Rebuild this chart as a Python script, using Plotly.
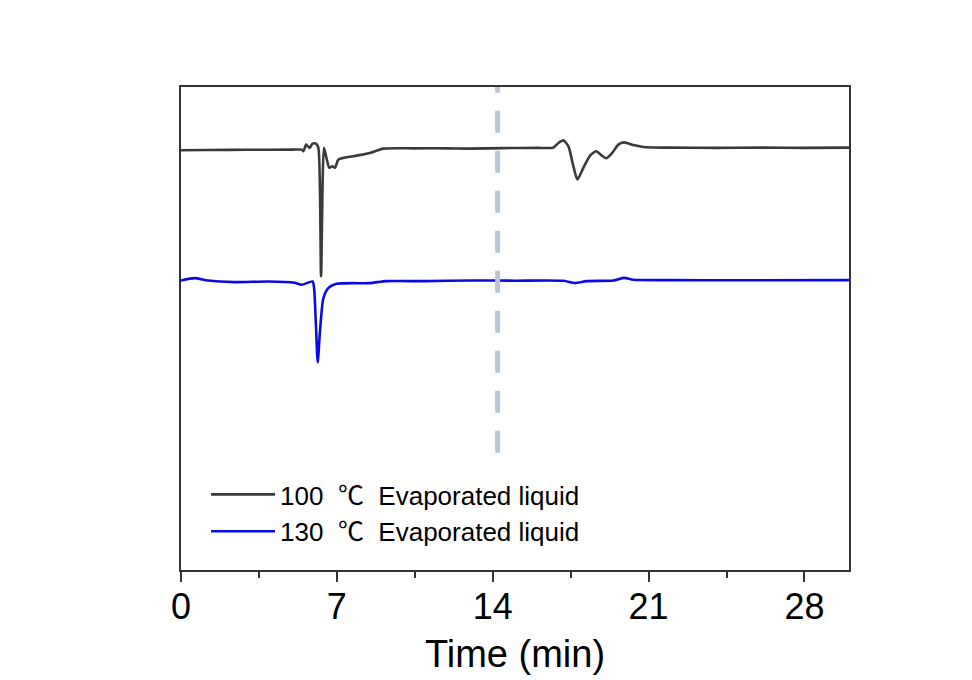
import plotly.graph_objects as go

# ---- data (time in min, signal in arbitrary units) ----
t_100 = [0, 1.2, 3.0, 5.0, 5.42, 5.50, 5.62, 5.77, 5.91, 6.06, 6.17, 6.29, 6.42, 6.54, 6.66, 6.8, 6.92,
         7.07, 7.74, 8.49, 9.09, 10.5, 12.0, 12.98, 14.5, 16.0, 16.72, 16.95, 17.17, 17.4, 17.62, 17.8,
         18.07, 18.37, 18.64, 18.9, 19.09, 19.34, 19.64, 19.9, 20.31, 20.9, 21.96, 24.0, 26.0, 28.0, 30.0]
y_100 = [86.89, 86.95, 87.0, 87.04, 87.04, 86.69, 88.07, 87.39, 88.27, 88.27, 87.39, 60.84, 87.39, 85.2,
         83.27, 83.6, 83.27, 84.98, 85.67, 86.35, 87.24, 87.3, 87.3, 87.24, 87.35, 87.4, 87.45, 88.41,
         88.95, 87.72, 83.6, 80.86, 83.27, 85.80, 86.69, 85.80, 85.25, 86.21, 88.07, 88.54, 88.0, 87.51,
         87.45, 87.4, 87.45, 87.4, 87.45]

t_130 = [0, 0.61, 1.21, 2.4, 3.9, 5.1, 5.42, 5.91, 5.98, 6.06, 6.14, 6.24, 6.39, 6.61, 6.98, 8.48,
         9.22, 11.0, 12.98, 15.0, 17.17, 17.70, 18.22, 19.42, 19.90, 20.31, 21.96, 25.0, 30.0]
y_130 = [59.94, 60.43, 59.94, 59.61, 59.74, 59.47, 59.05, 59.74, 58.23, 50.68, 43.0, 49.31, 56.17,
         58.37, 59.26, 59.40, 59.81, 59.8, 59.94, 59.9, 59.88, 59.40, 59.81, 59.94, 60.49, 60.08,
         60.01, 60.0, 60.01]

NB = "\u00a0"
CJK = "<span style='font-family:Noto Sans CJK SC'>℃</span>"
names = ["100 " + NB + CJK + NB + " Evaporated liquid", "130 " + NB + CJK + NB + " Evaporated liquid"]
colors = ["#3a3a3a", "#0a0ae6"]
marker_time = 14.22
x_ticks = [0, 7, 14, 21, 28]

FONT = "Arial, Liberation Sans, sans-serif"

fig = go.Figure()
fig.add_trace(go.Scatter(x=t_100, y=y_100, mode="lines", name=names[0],
                         line=dict(color=colors[0], width=2.6, shape="spline", smoothing=0.6)))
fig.add_trace(go.Scatter(x=t_130, y=y_130, mode="lines", name=names[1],
                         line=dict(color=colors[1], width=2.6, shape="spline", smoothing=0.6)))

fig.add_shape(type="line", xref="x", yref="paper", x0=marker_time, x1=marker_time, y0=0.243, y1=1,
              line=dict(color="#bcc5d3", width=5, dash="22px,18px"))

fig.update_layout(
    width=964, height=672,
    margin=dict(l=173, r=123, t=79, b=107),
    paper_bgcolor="white", plot_bgcolor="white",
    font=dict(family=FONT, color="black"),
    showlegend=True,
    legend=dict(x=0.0375, y=0.205, xanchor="left", yanchor="top",
                bgcolor="rgba(0,0,0,0)", font=dict(size=26, family=FONT),
                itemwidth=64, tracegroupgap=0),
    xaxis=dict(range=[0, 30], tickvals=x_ticks, ticktext=[str(v) for v in x_ticks],
               ticks="outside", ticklen=10, tickwidth=2, tickcolor="#333",
               minor=dict(tickvals=[3.5, 10.5, 17.5, 24.5], ticks="outside", ticklen=6,
                          tickwidth=2, tickcolor="#333"),
               showline=True, linecolor="#333", linewidth=2, mirror=True,
               showgrid=False, zeroline=False,
               tickfont=dict(size=36, family=FONT), ticklabelstandoff=-6,
               title=dict(text="Time (min)", font=dict(size=38, family=FONT), standoff=14)),
    yaxis=dict(range=[0, 100], showticklabels=False, ticks="", showgrid=False, zeroline=False,
               showline=True, linecolor="#333", linewidth=2, mirror=True),
)

fig.write_html("out.html")
